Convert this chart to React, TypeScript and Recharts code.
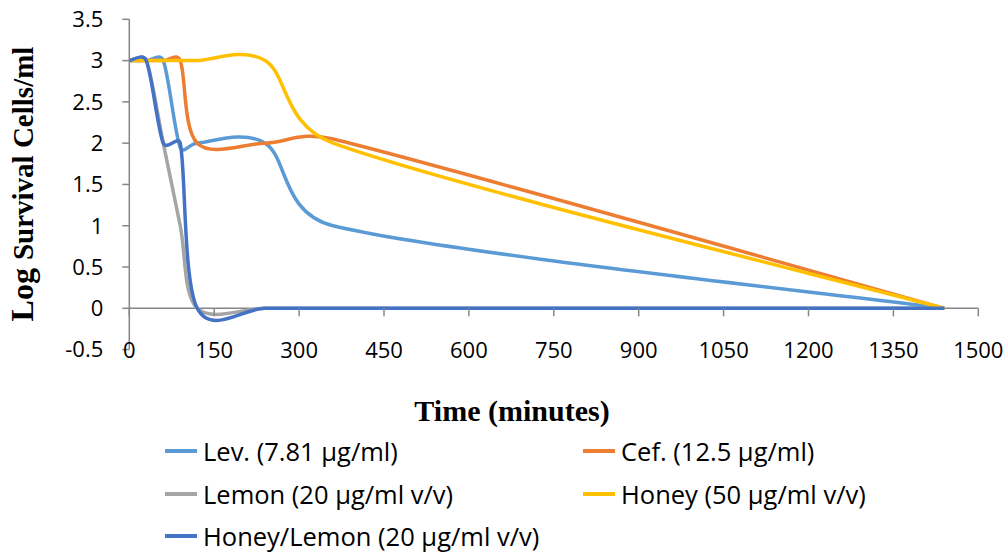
import React from 'react';
import { LineChart, Line, XAxis, YAxis, ReferenceLine, Legend } from 'recharts';

// ---- data ----
const times = [0, 30, 60, 90, 120, 240, 360, 1440];
const lev = [3, 3, 3, 1.95, 2, 2, 1, 0];
const cef = [3, 3, 3, 3, 2, 2, 2.05, 0];
const lemon = [3, 3, 2, 1, 0, 0, 0, 0];
const honey = [3, 3, 3, 3, 3, 3, 2, 0];
const honeyLemon = [3, 3, 2, 2, 0, 0, 0, 0];

const seriesNames = [
  'Lev. (7.81 µg/ml)',
  'Cef. (12.5 µg/ml)',
  'Lemon (20 µg/ml v/v)',
  'Honey (50 µg/ml v/v)',
  'Honey/Lemon (20 µg/ml v/v)',
];
const seriesKeys = ['lev', 'cef', 'lemon', 'honey', 'honeyLemon'];
const seriesColors = ['#5B9BD5', '#ED7D31', '#A5A5A5', '#FFC000', '#4472C4'];
const seriesValues = [lev, cef, lemon, honey, honeyLemon];

const xTicks = [0, 150, 300, 450, 600, 750, 900, 1050, 1200, 1350, 1500];
const yTicks = [-0.5, 0, 0.5, 1, 1.5, 2, 2.5, 3, 3.5];

const data = times.map((t, i) => {
  const row: Record<string, number> = { time: t };
  seriesKeys.forEach((k, s) => {
    row[k] = seriesValues[s][i];
  });
  return row;
});

// ---- layout constants ----
const W = 1008;
const H = 552;
const PLOT_TOP = 19.3;
const PLOT_BOTTOM = 349.6;
const PLOT_LEFT = 129.3;
const PLOT_RIGHT = 978.3;
const ZERO_OFFSET = (PLOT_BOTTOM - PLOT_TOP) / 8; // distance from -0.5 to 0
const AXIS_COLOR = '#868686';
const TICK_FONT = '"Open Sans", sans-serif';
const TITLE_FONT = '"Liberation Serif", "Times New Roman", serif';

// Excel-like smoothed line (Bezier, tension 1/6, arms clamped to half segment)
const excelCurve = (context: any) => {
  let xs: number[] = [];
  let ys: number[] = [];
  return {
    areaStart() {},
    areaEnd() {},
    lineStart() {
      xs = [];
      ys = [];
    },
    point(x: number, y: number) {
      xs.push(+x);
      ys.push(+y);
    },
    lineEnd() {
      const n = xs.length;
      if (n === 0) return;
      context.moveTo(xs[0], ys[0]);
      if (n === 1) return;
      for (let i = 0; i < n - 1; i++) {
        const i0 = Math.max(i - 1, 0);
        const i3 = Math.min(i + 2, n - 1);
        const d12 = Math.hypot(xs[i + 1] - xs[i], ys[i + 1] - ys[i]);
        const d02 = Math.hypot(xs[i + 1] - xs[i0], ys[i + 1] - ys[i0]);
        const d13 = Math.hypot(xs[i3] - xs[i], ys[i3] - ys[i]);
        let f1 = 1 / 6;
        let f2 = 1 / 6;
        if (d02 > 0 && d02 * f1 > d12 / 2) f1 = d12 / (2 * d02);
        if (d13 > 0 && d13 * f2 > d12 / 2) f2 = d12 / (2 * d13);
        context.bezierCurveTo(
          xs[i] + f1 * (xs[i + 1] - xs[i0]),
          ys[i] + f1 * (ys[i + 1] - ys[i0]),
          xs[i + 1] - f2 * (xs[i3] - xs[i]),
          ys[i + 1] - f2 * (ys[i3] - ys[i]),
          xs[i + 1],
          ys[i + 1]
        );
      }
    },
  };
};

const XTick = (props: any) => {
  const { x, y, payload } = props;
  const zeroY = y - ZERO_OFFSET;
  return (
    <g>
      <line x1={x} x2={x} y1={zeroY} y2={zeroY + 8} stroke={AXIS_COLOR} strokeWidth={1.5} />
      <text x={x} y={y + 1} dy="0.355em" textAnchor="middle" fontFamily={TICK_FONT} fontSize={22} fill="#000">
        {String(payload.value)}
      </text>
    </g>
  );
};

const renderYTitle = () => (
  <text
    x={33}
    y={184}
    transform="rotate(-90, 33, 184)"
    textAnchor="middle"
    fontFamily={TITLE_FONT}
    fontWeight="bold"
    fill="#000"
  >
    <tspan fontSize={32}>Log </tspan>
    <tspan fontSize={29}>Survival Cells/ml</tspan>
  </text>
);

const renderXTitle = () => (
  <text x={512} y={421} textAnchor="middle" fontFamily={TITLE_FONT} fontWeight="bold" fontSize={30} fill="#000">
    Time (minutes)
  </text>
);

const legendColX = [165, 583];
const legendRowY = [451, 494, 536];

const renderLegend = (props: any) => {
  const payload = (props.payload || []).slice();
  payload.sort((a: any, b: any) => seriesNames.indexOf(a.value) - seriesNames.indexOf(b.value));
  return (
    <div style={{ position: 'relative', width: W, height: H, pointerEvents: 'none' }}>
      {payload.map((p: any, i: number) => {
        const col = i % 2;
        const row = Math.floor(i / 2);
        return (
          <div
            key={p.value}
            style={{
              position: 'absolute',
              left: legendColX[col],
              top: legendRowY[row] - 15,
              height: 30,
              lineHeight: '30px',
              display: 'flex',
              alignItems: 'center',
              whiteSpace: 'nowrap',
              fontFamily: TICK_FONT,
              fontSize: 25.5,
              color: '#000',
            }}
          >
            <span style={{ display: 'inline-block', width: 32, height: 4, background: p.color, marginRight: 6 }} />
            <span>{p.value}</span>
          </div>
        );
      })}
    </div>
  );
};

export default function App() {
  return (
    <div style={{ position: 'absolute', left: 0, top: 0, width: W, height: H, background: '#fff' }}>
      <LineChart
        width={W}
        height={H}
        data={data}
        margin={{ top: PLOT_TOP, right: W - PLOT_RIGHT, bottom: 0, left: 0 }}
      >
        <XAxis
          dataKey="time"
          type="number"
          domain={[0, 1500]}
          ticks={xTicks}
          interval={0}
          axisLine={false}
          tickLine={false}
          tickSize={0}
          tickMargin={0}
          height={H - PLOT_BOTTOM}
          tick={<XTick />}
          label={{ content: renderXTitle }}
        />
        <YAxis
          type="number"
          domain={[-0.5, 3.5]}
          ticks={yTicks}
          interval={0}
          width={PLOT_LEFT}
          axisLine={{ stroke: AXIS_COLOR, strokeWidth: 1.5 }}
          tickLine={{ stroke: AXIS_COLOR, strokeWidth: 1.5 }}
          tickSize={7}
          tickMargin={19}
          tick={{ fill: '#000', fontSize: 22, fontFamily: TICK_FONT }}
          tickFormatter={(v: number) => String(v)}
          label={{ content: renderYTitle }}
        />
        <ReferenceLine y={0} stroke={AXIS_COLOR} strokeWidth={1.5} />
        {seriesKeys.map((k, s) => (
          <Line
            key={k}
            dataKey={k}
            name={seriesNames[s]}
            stroke={seriesColors[s]}
            strokeWidth={3.5}
            type={excelCurve as any}
            dot={false}
            activeDot={false}
            isAnimationActive={false}
          />
        ))}
        <Legend
          layout="horizontal"
          verticalAlign="middle"
          align="center"
          wrapperStyle={{ left: 0, top: 0, width: W, height: H, pointerEvents: 'none' }}
          content={renderLegend}
        />
      </LineChart>
    </div>
  );
}
